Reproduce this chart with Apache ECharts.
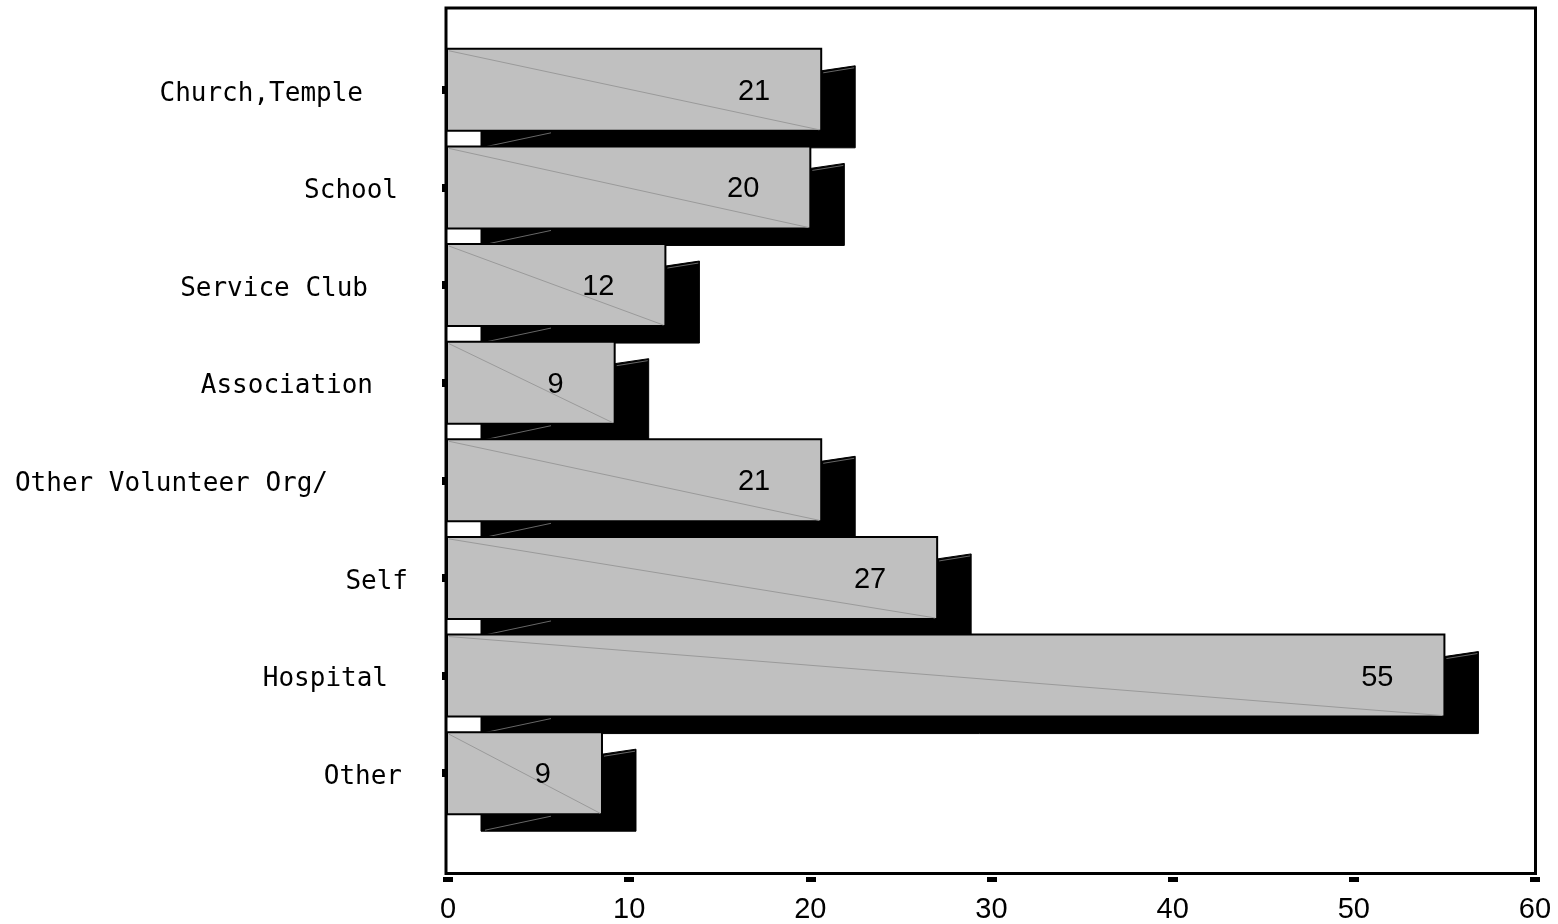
<!DOCTYPE html>
<html>
<head>
<meta charset="utf-8">
<script src="https://cdn.jsdelivr.net/npm/echarts@6/dist/echarts.min.js"></script>
<style>
  html, body { margin: 0; padding: 0; background: #ffffff; }
  #chart { width: 1558px; height: 924px; }
</style>
</head>
<body>
<div id="chart"></div>
<script>
// ---- data ----
const categories = ['Church,Temple', 'School', 'Service Club', 'Association',
                    'Other Volunteer Org/', 'Self', 'Hospital', 'Other'];
const values = [20.6, 20, 12, 9.2, 20.6, 27, 55, 8.5];
const xTicks = { min: 0, max: 60, interval: 10 };

// ---- style only ----
const labelPad = [75, 40, 70, 65, 110, 30, 50, 36];
const SHADOW_DX = 34, SHADOW_DY = 17;

const rich = {};
labelPad.forEach((p, i) => {
  rich['p' + i] = {
    fontFamily: 'DejaVu Sans Mono', fontSize: 26, color: '#000',
    padding: [8, p, 0, 0]
  };
});

const chart = echarts.init(document.getElementById('chart'));

chart.setOption({
  animation: false,
  backgroundColor: '#ffffff',
  grid: { left: 448, right: 23, top: 41, height: 781, containLabel: false },
  xAxis: {
    type: 'value',
    min: xTicks.min, max: xTicks.max, interval: xTicks.interval,
    offset: 55,
    axisLine: { show: false },
    axisTick: { show: true, length: 5, lineStyle: { color: '#000', width: 10 } },
    splitLine: { show: false },
    axisLabel: {
      margin: 18, color: '#000', fontFamily: 'Liberation Sans', fontSize: 29
    }
  },
  yAxis: {
    type: 'category',
    data: categories,
    inverse: true,
    offset: 4,
    axisLine: { show: false },
    axisTick: { show: true, alignWithLabel: true, length: 6, lineStyle: { color: '#000', width: 8 } },
    splitLine: { show: false },
    axisLabel: {
      margin: 6,
      formatter: (val, idx) => '{p' + idx + '|' + val + '}',
      rich: rich
    }
  },
  graphic: [{
    type: 'rect',
    z: 100,
    shape: { x: 446, y: 8, width: 1089.5, height: 865.5 },
    style: { fill: 'none', stroke: '#000', lineWidth: 3 }
  }],
  series: [{
    type: 'custom',
    encode: { x: 0, y: 1 },
    data: values.map((v, i) => [v, i]),
    renderItem: function (params, api) {
      const v = api.value(0);
      const c = api.value(1);
      const s = api.coord([0, c]);
      const e = api.coord([v, c]);
      const h = api.size([0, 1])[1] * 0.84;
      const top = s[1] - h / 2, bottom = s[1] + h / 2;
      const x0 = s[0] - 1, x1 = e[0];
      const dx = SHADOW_DX, dy = SHADOW_DY;
      return {
        type: 'group',
        children: [
          {
            type: 'polygon',
            shape: { points: [
              [x0 + dx, bottom], [x0 + dx, bottom + dy], [x1 + dx, bottom + dy],
              [x1 + dx, top + dy], [x1, top + dy + 5], [x1, bottom]
            ] },
            style: { fill: '#000', stroke: '#000', lineWidth: 1 }
          },
          {
            type: 'line',
            shape: { x1: x0 + dx + 4, y1: bottom + dy - 1, x2: x0 + dx + 70, y2: bottom + 2 },
            style: { stroke: '#666', lineWidth: 1 }
          },
          {
            type: 'line',
            shape: { x1: x1 + 2, y1: top + dy + 7, x2: x1 + dx - 1, y2: top + dy + 2 },
            style: { stroke: '#666', lineWidth: 1 }
          },
          {
            type: 'rect',
            shape: { x: x0, y: top, width: x1 - x0, height: h },
            style: { fill: '#c0c0c0', stroke: '#000', lineWidth: 2 }
          },
          {
            type: 'line',
            shape: { x1: x0 + 2, y1: top + 2, x2: x1 - 2, y2: bottom - 1 },
            style: { stroke: '#9a9a9a', lineWidth: 1 }
          },
          {
            type: 'text',
            style: {
              text: String(Math.round(v)),
              x: x1 - 51, y: s[1] + 2,
              align: 'right', verticalAlign: 'middle',
              fontFamily: 'Liberation Sans', fontSize: 29, fill: '#000'
            }
          }
        ]
      };
    }
  }]
});
</script>
</body>
</html>
